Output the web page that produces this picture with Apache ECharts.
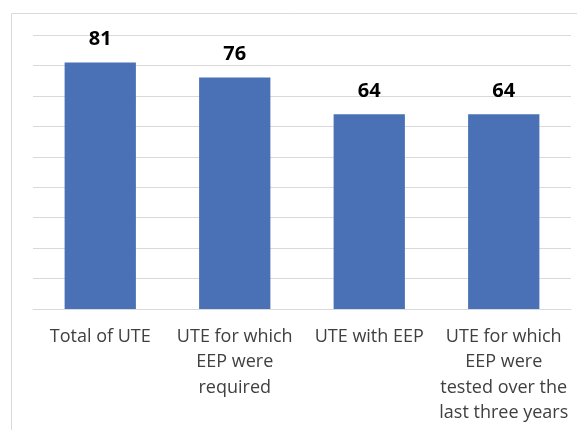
<!DOCTYPE html>
<html>
<head>
<meta charset="utf-8">
<script src="https://cdn.jsdelivr.net/npm/echarts@6/dist/echarts.min.js"></script>
<style>
  html, body { margin: 0; padding: 0; background: #fff; }
  #chart { width: 577px; height: 430px; }
</style>
</head>
<body>
<div id="chart"></div>
<script>
// categories and values
var categories = [
    'Total of UTE',
    'UTE for which\nEEP were\nrequired',
    'UTE with EEP',
    'UTE for which\nEEP were\ntested over the\nlast three years'
];
var values = [81, 76, 64, 64];

var myChart = echarts.init(document.getElementById('chart'));

var options = {
    animation: false,
    graphic: [{
        // outer chart frame
        type: 'rect',
        shape: { x: 11.5, y: 13.5, width: 700, height: 600 },
        style: { fill: 'none', stroke: '#d9d9d9', lineWidth: 1 },
        silent: true
    }],
    grid: { left: 33, right: 6, top: 35, bottom: 121, containLabel: false, outerBoundsMode: 'none' },
    xAxis: {
        type: 'category',
        data: categories,
        axisLine: { lineStyle: { color: '#d9d9d9' } },
        axisTick: { length: 5, lineStyle: { color: '#d9d9d9' } },
        axisLabel: {
            interval: 0,
            margin: 15,
            color: '#404040',
            fontFamily: 'Open Sans',
            fontSize: 18,
            lineHeight: 25.5,
            align: 'center'
        }
    },
    yAxis: {
        type: 'value',
        min: 0,
        max: 90,
        interval: 10,
        axisLabel: { show: false },
        axisLine: { show: false },
        axisTick: { show: false },
        splitLine: { lineStyle: { color: '#d9d9d9' } }
    },
    series: [{
        type: 'bar',
        data: values,
        barWidth: '53%',
        itemStyle: { color: '#4a70b5' },
        label: {
            show: true,
            position: 'top',
            distance: 13,
            color: '#000',
            fontFamily: 'Open Sans',
            fontWeight: 'bold',
            fontSize: 20
        }
    }]
};
myChart.setOption(options);
</script>
</body>
</html>
